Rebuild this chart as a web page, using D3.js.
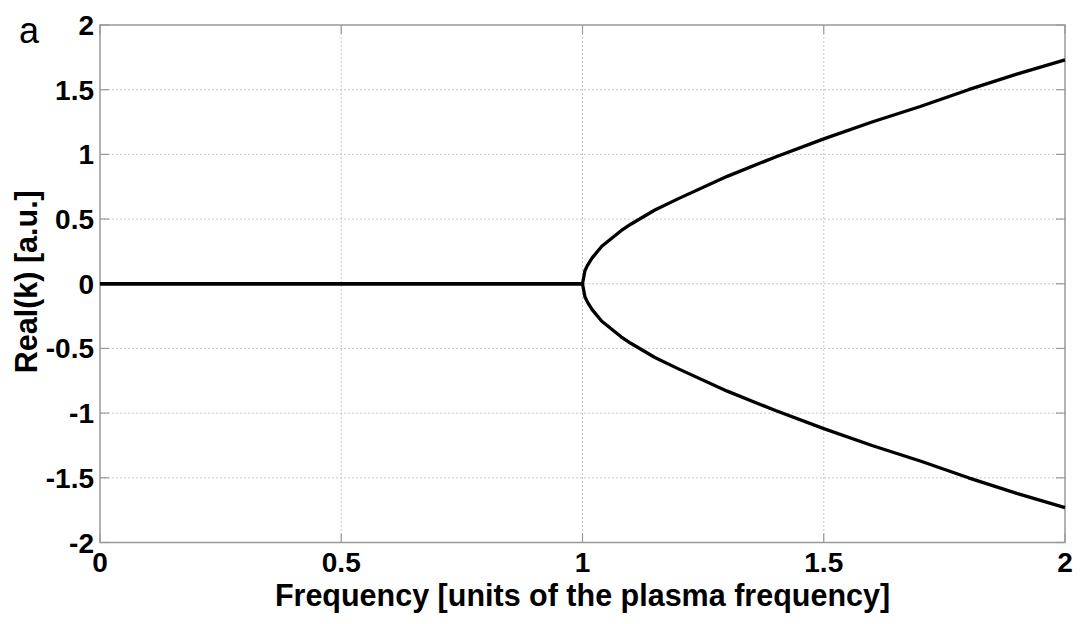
<!DOCTYPE html>
<html lang="en">
<head>
    <meta charset="UTF-8">
    <title>Real(k) vs frequency</title>
    <style>
        body { margin: 0; background: #fff; }
        text { font-family: "Liberation Sans", Arial, sans-serif; fill: #000; }
        .tick-label { font-size: 28px; font-weight: bold; }
        .axis-title { font-size: 30.5px; font-weight: bold; }
        .grid { stroke: #c8c8c8; stroke-width: 1; stroke-dasharray: 2,2; }
    </style>
</head>
<body>
    <script src="https://d3js.org/d3.v7.min.js"></script>
    <script>
        // values
        const frequency = [0, 0.5, 1.0, 1.005, 1.01, 1.02, 1.04, 1.06, 1.08, 1.1, 1.15, 1.2, 1.3, 1.4, 1.5, 1.6, 1.7, 1.8, 1.9, 2.0];
        const kUpper = [0, 0, 0, 0.10, 0.14, 0.20, 0.29, 0.35, 0.41, 0.46, 0.57, 0.66, 0.83, 0.98, 1.12, 1.25, 1.37, 1.50, 1.62, 1.73];
        const kLower = [0, 0, 0, -0.10, -0.14, -0.20, -0.29, -0.35, -0.41, -0.46, -0.57, -0.66, -0.83, -0.98, -1.12, -1.25, -1.37, -1.50, -1.62, -1.73];
        const xTicks = [0, 0.5, 1, 1.5, 2];
        const yTicks = [-2, -1.5, -1, -0.5, 0, 0.5, 1, 1.5, 2];

        const width = 1080, height = 624;
        const margin = { top: 25, right: 15, bottom: 81.5, left: 100 };

        const svg = d3.select("body").append("svg")
            .attr("width", width)
            .attr("height", height);

        const x = d3.scaleLinear().domain([0, 2]).range([margin.left, width - margin.right]);
        const y = d3.scaleLinear().domain([-2, 2]).range([height - margin.bottom, margin.top]);

        // dotted grid
        svg.append("g").selectAll("line")
            .data(xTicks.slice(1, -1))
            .enter().append("line")
            .attr("class", "grid")
            .attr("x1", d => x(d)).attr("x2", d => x(d))
            .attr("y1", y(2)).attr("y2", y(-2));

        svg.append("g").selectAll("line")
            .data(yTicks.slice(1, -1))
            .enter().append("line")
            .attr("class", "grid")
            .attr("x1", x(0)).attr("x2", x(2))
            .attr("y1", d => y(d)).attr("y2", d => y(d));

        // inward ticks, matlab style
        const tickLen = 9;
        const ticks = svg.append("g").attr("stroke", "#999").attr("stroke-width", 1.2);
        xTicks.forEach(d => {
            ticks.append("line").attr("x1", x(d)).attr("x2", x(d)).attr("y1", y(-2)).attr("y2", y(-2) - tickLen);
            ticks.append("line").attr("x1", x(d)).attr("x2", x(d)).attr("y1", y(2)).attr("y2", y(2) + tickLen);
        });
        yTicks.forEach(d => {
            ticks.append("line").attr("x1", x(0)).attr("x2", x(0) + tickLen).attr("y1", y(d)).attr("y2", y(d));
            ticks.append("line").attr("x1", x(2)).attr("x2", x(2) - tickLen).attr("y1", y(d)).attr("y2", y(d));
        });

        // box
        svg.append("rect")
            .attr("x", x(0)).attr("y", y(2))
            .attr("width", x(2) - x(0)).attr("height", y(-2) - y(2))
            .attr("fill", "none").attr("stroke", "#999").attr("stroke-width", 1.5);

        // curves
        const line = d3.line()
            .x((d, i) => x(frequency[i]))
            .y(d => y(d));

        [kUpper, kLower].forEach(series => {
            svg.append("path")
                .datum(series)
                .attr("d", line)
                .attr("fill", "none")
                .attr("stroke", "#000")
                .attr("stroke-width", 3.3)
                .attr("stroke-linejoin", "round");
        });

        // tick labels
        svg.append("g").selectAll("text")
            .data(xTicks)
            .enter().append("text")
            .attr("class", "tick-label")
            .attr("x", d => x(d))
            .attr("y", y(-2) + 29.5)
            .attr("text-anchor", "middle")
            .text(d => d);

        svg.append("g").selectAll("text")
            .data(yTicks)
            .enter().append("text")
            .attr("class", "tick-label")
            .attr("x", x(0) - 6)
            .attr("y", d => y(d) + 10)
            .attr("text-anchor", "end")
            .text(d => d);

        // axis titles
        svg.append("text")
            .attr("class", "axis-title")
            .attr("x", (x(0) + x(2)) / 2)
            .attr("y", 606)
            .attr("text-anchor", "middle")
            .text("Frequency [units of the plasma frequency]");

        svg.append("text")
            .attr("class", "axis-title")
            .attr("transform", `translate(37,${(y(-2) + y(2)) / 2 - 2}) rotate(-90)`)
            .attr("text-anchor", "middle")
            .text("Real(k) [a.u.]");

        // panel letter
        svg.append("text")
            .attr("x", 19)
            .attr("y", 43)
            .attr("font-size", 36)
            .text("a");
    </script>
</body>
</html>
